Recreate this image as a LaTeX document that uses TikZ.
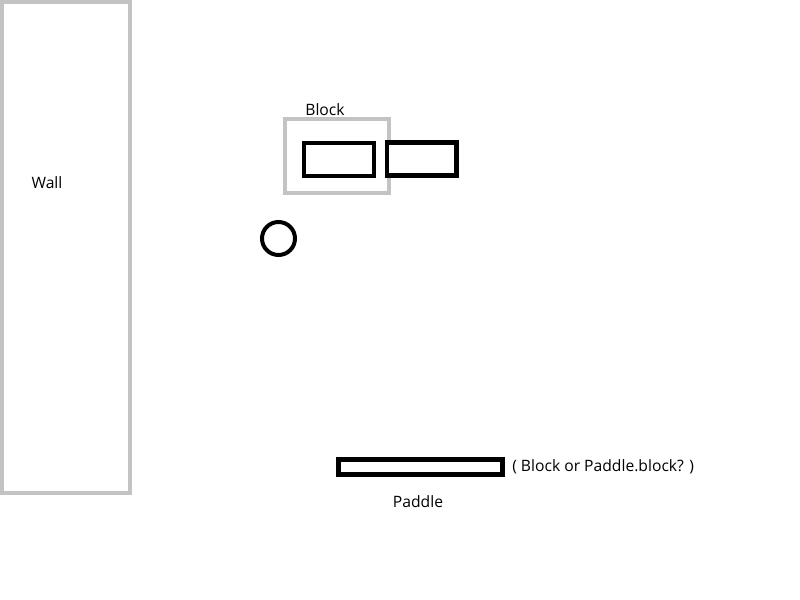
\documentclass[tikz,border=0pt]{standalone}
\usepackage{fontspec}
\setmainfont{Open Sans}
\definecolor{paintgray}{RGB}{195,195,195}
\begin{document}
\begin{tikzpicture}[x=0.75pt,y=-0.75pt,
    frame/.style={draw=paintgray,line width=3pt,rectangle,inner sep=0pt},
    brick/.style={draw=black,line width=3.3pt,rectangle,inner sep=0pt,fill=white},
    label/.style={inner sep=0pt,font=\fontsize{11.75}{13}\selectfont}]
  \useasboundingbox (0,0) rectangle (800,600);
  % wall and the frame round the first block
  \node[frame,minimum width=128*0.75pt,minimum height=491*0.75pt] (wall) at (66,247.5) {};
  \node[frame,minimum width=104*0.75pt,minimum height=74*0.75pt] (frame) at (337,156) {};
  % blocks
  \node[brick,minimum width=70*0.75pt,minimum height=33*0.75pt] (block1) at (339,159.5) {};
  \node[brick,minimum width=69.5*0.75pt,minimum height=33*0.75pt] (block2) at (421.75,159) {};
  % ball
  \node[draw=black,line width=3pt,circle,inner sep=0pt,minimum size=33*0.75pt] (ball) at (278.5,238.5) {};
  % paddle
  \node[brick,line width=3.75pt,minimum width=164*0.75pt,minimum height=14.5*0.75pt] (paddle) at (420.5,466.75) {};
  % texts
  \node[label] (walltext) at (47,183) {Wall};
  \node[label] (blocktext) at (325,110) {Block};
  \node[label] (paddletext) at (418,502) {Paddle};
  \node[label,anchor=west] (question) at (512,467) {( Block or Paddle.block? )};
\end{tikzpicture}
\end{document}
